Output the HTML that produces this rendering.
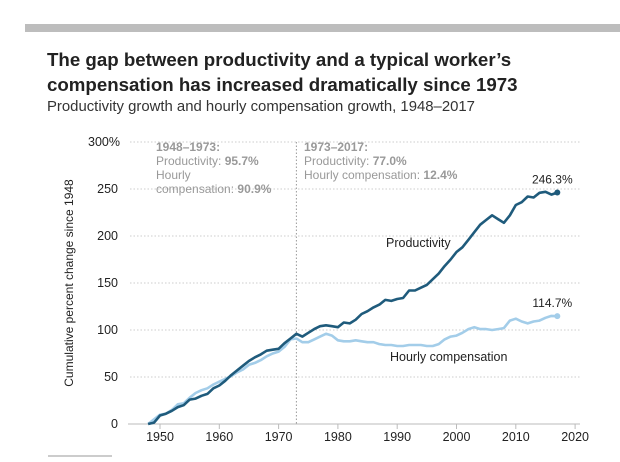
<!DOCTYPE html>
<html><head><meta charset="utf-8">
<style>
body{margin:0;background:#fff;width:620px;height:457px;overflow:hidden;font-family:"Liberation Sans",sans-serif}
svg text{font-family:"Liberation Sans",sans-serif}
</style></head>
<body>
<svg width="620" height="457">
<rect x="25" y="24" width="595" height="8" fill="#bdbdbd"/>
<text x="47" y="66" font-size="18.7" font-weight="bold" fill="#222">The gap between productivity and a typical worker’s</text>
<text x="47" y="91" font-size="18.7" font-weight="bold" fill="#222">compensation has increased dramatically since 1973</text>
<text x="47" y="111" font-size="14.9" fill="#333">Productivity growth and hourly compensation growth, 1948–2017</text>
<g id="grid"></g>
<g id="plot"></g>
<text transform="translate(73,283) rotate(-90)" text-anchor="middle" font-size="12" fill="#222">Cumulative percent change since 1948</text>
<g font-size="12" fill="#999">
<text x="156" y="151" font-weight="bold">1948–1973:</text>
<text x="156" y="165">Productivity: <tspan font-weight="bold">95.7%</tspan></text>
<text x="156" y="179">Hourly</text>
<text x="156" y="193">compensation: <tspan font-weight="bold">90.9%</tspan></text>
</g>
<g font-size="12" fill="#999">
<text x="304" y="151" font-weight="bold">1973–2017:</text>
<text x="304" y="165">Productivity: <tspan font-weight="bold">77.0%</tspan></text>
<text x="304" y="179">Hourly compensation: <tspan font-weight="bold">12.4%</tspan></text>
</g>
<text x="386" y="247" font-size="12.5" fill="#222">Productivity</text>
<text x="390" y="361" font-size="12.5" fill="#222">Hourly compensation</text>
<rect x="48" y="455" width="64" height="2" fill="#ccc"/>
</svg>
<script>
const years=[];for(let y=1948;y<=2017;y++)years.push(y);
const productivity=[0,1.5,9,11,14,18,20,26,27,30,32,38,41,46,52,57,62,67,71,74,78,79,80,86,91,96,93,97,101,104,105,104,103,108,107,111,117,120,124,127,132,131,133,134,142,142,145,148,154,160,168,175,183,188,196,204,212,217,222,218,214,222,233,236,242,241,246,247,244,246.3];
const compensation=[0,5,10,11,15,21,22,28,33,36,38,42,45,48,51,55,58,63,65,68,72,75,77,82,90,91,87,87,90,93,96,94,89,88,88,89,88,87,87,85,84,84,83,83,84,84,84,83,83,85,90,93,94,97,101,103,101,101,100,101,102,110,112,109,107,109,110,113,115,114.7];
const yTicks=[0,50,100,150,200,250,300];
const yTickLabels=["0","50","100","150","200","250","300%"];
const xTicks=[1950,1960,1970,1980,1990,2000,2010,2020];
const NS="http://www.w3.org/2000/svg";
const X=v=>160+(v-1950)*5.93, Y=v=>424-v*0.94;
const grid=document.getElementById('grid'), plot=document.getElementById('plot');
function mk(tag,attrs,parent){const e=document.createElementNS(NS,tag);for(const k in attrs)e.setAttribute(k,attrs[k]);parent.appendChild(e);return e;}
yTicks.forEach((t,i)=>{
 if(t>0){const l=mk('line',{x1:130,x2:580,y1:Y(t),y2:Y(t),stroke:'#ccc','stroke-dasharray':'1.5,2'},grid);
 
 }
 const tx=mk('text',{x:i==6?120:118,y:Y(t)+4,'text-anchor':'end','font-size':12.5,fill:'#222'},grid);
 tx.textContent=yTickLabels[i];
 
 
});
const ax=mk('line',{x1:128,x2:580,y1:424,y2:424,stroke:'#bbb','stroke-width':1},grid);


xTicks.forEach(t=>{
 const tk=mk('line',{x1:X(t),x2:X(t),y1:424,y2:429,stroke:'#bbb'},grid);
 
 
 const tx=mk('text',{x:X(t),y:441,'text-anchor':'middle','font-size':12.5,fill:'#222'},grid);
 tx.textContent=t;
 
 
});
const vl=mk('line',{x1:X(1973),x2:X(1973),y1:142,y2:424,stroke:'#999','stroke-dasharray':'1.5,2'},grid);


function series(vals,color,name){
 const d=vals.map((v,i)=>(i?'L':'M')+X(years[i]).toFixed(1)+','+Y(v).toFixed(1)).join('');
 const p=mk('path',{d:d,fill:'none',stroke:color,'stroke-width':2.6,'stroke-linejoin':'round'},plot);
 
 
 const n=vals.length-1;
 const c=mk('circle',{cx:X(years[n]),cy:Y(vals[n]),r:3,fill:color},plot);
 
 
 const t=mk('text',{x:X(years[n])-5,y:Y(vals[n])-9,'text-anchor':'middle','font-size':12,fill:'#222'},plot);
 t.textContent=vals[n].toFixed(1)+'%';
 
 
}
series(compensation,'#a3cde9','compensation');
series(productivity,'#1f5b7c','productivity');
</script>
</body></html>
